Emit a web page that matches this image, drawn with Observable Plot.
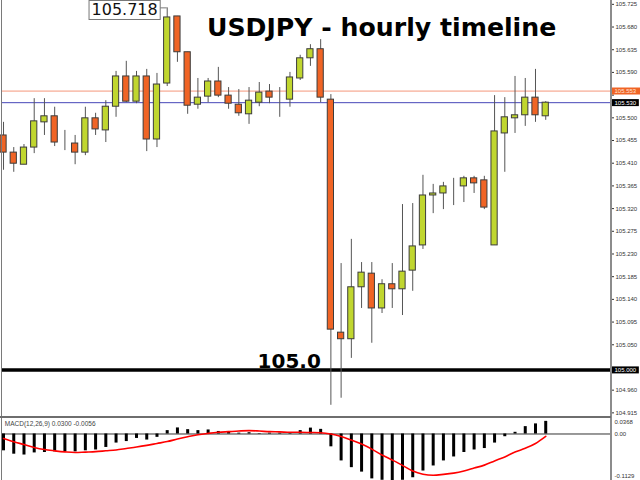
<!DOCTYPE html>
<html><head><meta charset="utf-8">
<script src="https://cdn.jsdelivr.net/npm/d3@7"></script>
<script src="https://cdn.jsdelivr.net/npm/@observablehq/plot@0.6"></script>
<style>
html,body{margin:0;padding:0;background:#fff;}
#wrap{position:relative;width:640px;height:480px;overflow:hidden;background:#fff;}
#main{position:absolute;left:0;top:0;}
#macd{position:absolute;left:0;top:417px;}
.chrome{position:absolute;}
</style></head><body>
<div id="wrap"><div id="main"></div><div id="macd"></div>
<div class="chrome" style="left:1px;top:0;width:1px;height:480px;background:#7a7a7a"></div>
<div class="chrome" style="left:610px;top:0;width:1.5px;height:480px;background:#8c8c8c"></div>
<div class="chrome" style="left:0;top:416px;width:611px;height:2px;background:#6e6e6e"></div>
</div>
<script>
// ---- data (hourly USDJPY candles) ----
const open  = [105.465,105.431,105.407,105.441,105.491,105.503,105.451,105.449,105.431,105.499,105.475,105.522,105.582,105.532,105.582,105.457,105.568,105.701,105.630,105.526,105.542,105.572,105.544,105.526,105.507,105.530,105.552,105.538,105.536,105.578,105.618,105.636,105.536,105.074,105.061,105.164,105.191,105.122,105.170,105.160,105.197,105.247,105.346,105.350,105.362,105.364,105.380,105.376,105.247,105.469,105.499,105.505,105.540,105.503];
const high  = [105.491,105.441,105.447,105.538,105.538,105.521,105.475,105.465,105.521,105.509,105.534,105.592,105.612,105.592,105.596,105.588,105.718,105.701,105.630,105.578,105.578,105.600,105.560,105.556,105.560,105.570,105.566,105.560,105.590,105.624,105.645,105.655,105.546,105.211,105.259,105.213,105.213,105.179,105.211,105.328,105.330,105.386,105.368,105.372,105.380,105.384,105.384,105.384,105.544,105.540,105.582,105.578,105.596,105.532];
const low   = [105.396,105.392,105.407,105.429,105.465,105.443,105.435,105.407,105.425,105.465,105.451,105.501,105.530,105.528,105.433,105.441,105.562,105.610,105.507,105.517,105.530,105.540,105.517,105.503,105.487,105.522,105.528,105.501,105.521,105.574,105.602,105.530,104.930,104.944,105.023,105.122,105.053,105.112,105.122,105.108,105.156,105.239,105.310,105.318,105.326,105.332,105.350,105.318,105.247,105.392,105.469,105.483,105.491,105.495];
const close = [105.431,105.409,105.441,105.493,105.503,105.451,105.451,105.431,105.499,105.477,105.522,105.582,105.532,105.582,105.457,105.566,105.699,105.630,105.524,105.540,105.572,105.544,105.528,105.509,105.534,105.550,105.540,105.538,105.580,105.618,105.636,105.540,105.080,105.061,105.164,105.193,105.122,105.170,105.160,105.195,105.245,105.346,105.350,105.364,105.362,105.380,105.370,105.322,105.473,105.501,105.505,105.540,105.505,105.530];
// MACD(12,26,9): histogram (main) and signal
const macdMain   = [-0.040,-0.048,-0.050,-0.045,-0.044,-0.0425,-0.0425,-0.0425,-0.040,-0.038,-0.032,-0.0216,-0.018,-0.0106,-0.0144,-0.008,0.008,0.0144,0.0103,0.008,0.0096,0.006,0.004,0.002,0.003,0.001,0.002,0.002,0.002,0.008,0.014,0.011,-0.0305,-0.064,-0.080,-0.0906,-0.1067,-0.110,-0.1129,-0.110,-0.104,-0.088,-0.076,-0.064,-0.0546,-0.044,-0.038,-0.0346,-0.0216,-0.0065,0.004,0.0175,0.024,0.0300];
const macdSignal = [-0.0106,-0.0185,-0.025,-0.032,-0.037,-0.040,-0.0425,-0.044,-0.043,-0.042,-0.040,-0.038,-0.0345,-0.031,-0.027,-0.0225,-0.018,-0.012,-0.0065,-0.0017,0.0015,0.004,0.0055,0.007,0.008,0.007,0.0055,0.005,0.004,0.004,0.0035,0.003,0.0,-0.006,-0.0145,-0.024,-0.036,-0.050,-0.062,-0.0745,-0.088,-0.0955,-0.098,-0.096,-0.093,-0.088,-0.081,-0.074,-0.064,-0.0545,-0.043,-0.034,-0.0225,-0.0056];
// levels and axis ticks
const askLevel = 105.553;
const bidLevel = 105.530;
const supportLevel = 105.000;
const priceTicks = [105.725,105.680,105.635,105.590,105.545,105.500,105.455,105.410,105.365,105.320,105.275,105.230,105.185,105.140,105.095,105.050,105.005,104.960,104.915];
const hiddenTickLabels = [105.545, 105.005]; // covered by the price boxes
const priceDomain = [104.9058, 105.7326];
const macdMax = 0.0368, macdMin = -0.1129;
const title = "USDJPY - hourly timeline";
const supportLabel = "105.0";

// ---- build ----
const GREEN = "#c0d62f", ORANGE = "#f06425", EDGE = "#3c3c3c";
const candles = open.map((o, i) => ({i, open: o, high: high[i], low: low[i], close: close[i], up: close[i] >= o}));
const xDomain = [-0.1, 59.43];
const fmt3 = d3.format(".3f");
const hiIdx = high.indexOf(d3.max(high));
const loIdx = low.indexOf(d3.min(low));

const main = Plot.plot({
  width: 640, height: 417, marginLeft: 2, marginRight: 29, marginTop: 0, marginBottom: 0,
  style: {fontFamily: "'Liberation Sans', Arial, sans-serif", background: "transparent", overflow: "visible"},
  x: {domain: xDomain, axis: null},
  y: {domain: priceDomain},
  marks: [
    Plot.axisY({ticks: priceTicks, anchor: "right", tickSize: 2, tickPadding: 2,
      tickFormat: d => hiddenTickLabels.some(h => Math.abs(h - d) < 1e-6) ? "" : fmt3(d),
      fontSize: 6, color: "#333", label: null}),
    Plot.ruleY([askLevel], {stroke: "#f4977a", strokeWidth: 1}),
    Plot.ruleY([bidLevel], {stroke: "#4747b8", strokeWidth: 1}),
    Plot.ruleY([supportLevel], {stroke: "#000", strokeWidth: 3.5}),
    Plot.ruleX(candles, {x: "i", y1: "low", y2: "high", stroke: "#555", strokeWidth: 1}),
    Plot.rect(candles.filter(d => d.up), {x1: d => d.i - 0.5, x2: d => d.i + 0.5, insetLeft: 2, insetRight: 2, y1: "open", y2: "close", fill: GREEN, stroke: EDGE, strokeWidth: 1}),
    Plot.rect(candles.filter(d => !d.up), {x1: d => d.i - 0.5, x2: d => d.i + 0.5, insetLeft: 2, insetRight: 2, y1: "open", y2: "close", fill: ORANGE, stroke: EDGE, strokeWidth: 1}),
    // high annotation
    Plot.ruleY([hiIdx], {y: i => high[i], x1: i => i - 0.7, x2: i => i, stroke: "#777", strokeWidth: 1}),
    Plot.text([hiIdx], {x: i => i, y: i => high[i], text: i => fmt3(high[i]), textAnchor: "end", dx: -9.5, dy: 2.5, fontSize: 16, fontFamily: "'DejaVu Sans', sans-serif", fill: "#111", ariaDescription: "box-white"}),
    // 105.0 label
    Plot.text([supportLevel], {x: () => loIdx, y: d => d, text: () => supportLabel, textAnchor: "end", lineAnchor: "bottom", dx: -10, dy: -2, fontSize: 20, fontWeight: "bold", fontFamily: "'DejaVu Sans', sans-serif", fill: "#000"}),
    // title
    Plot.text([title], {frameAnchor: "top-left", text: d => d, textAnchor: "start", lineAnchor: "top", dx: 204.5, dy: 18, fontSize: 25.2, fontWeight: "bold", fontFamily: "'DejaVu Sans', sans-serif", fill: "#000"}),
    // price boxes on right axis
    Plot.text([askLevel], {y: d => d, frameAnchor: "right", dx: 3, textAnchor: "start", text: d => fmt3(d), fontSize: 6, fill: "#ffe6da", ariaDescription: "box-orange"}),
    Plot.text([bidLevel, supportLevel], {y: d => d, frameAnchor: "right", dx: 3, textAnchor: "start", text: d => fmt3(d), fontSize: 6, fill: "#fff", ariaDescription: "box-black"})
  ]
});
document.getElementById("main").append(main);

const macdRows = macdMain.map((v, i) => ({i, hist: v, signal: macdSignal[i]}));
const macdLabel = `MACD(12,26,9) ${macdMain[macdMain.length - 1].toFixed(4)} ${macdSignal[macdSignal.length - 1].toFixed(4)}`;
const macd = Plot.plot({
  width: 640, height: 64, marginLeft: 2, marginRight: 29, marginTop: 1, marginBottom: 0,
  style: {fontFamily: "'Liberation Sans', Arial, sans-serif", background: "transparent", overflow: "visible"},
  x: {domain: xDomain, axis: null},
  y: {domain: [macdMin, macdMax], axis: null},
  marks: [
    Plot.ruleY([0], {stroke: "#333", strokeWidth: 1}),
    Plot.ruleX(macdRows, {x: "i", y1: 0, y2: "hist", stroke: "#000", strokeWidth: 3}),
    Plot.line(macdRows, {x: "i", y: "signal", stroke: "#ff0000", strokeWidth: 1.6, curve: "monotone-x"}),
    Plot.text([macdMax], {y: d => d, frameAnchor: "right", dx: 3, textAnchor: "start", lineAnchor: "top", dy: 1.3, text: d => d.toFixed(4), fontSize: 6, fill: "#333"}),
    Plot.text([0], {y: d => d, frameAnchor: "right", dx: 3, textAnchor: "start", text: d => d.toFixed(2), fontSize: 6, fill: "#333"}),
    Plot.text([macdMin], {y: d => d, frameAnchor: "right", dx: 3, textAnchor: "start", lineAnchor: "bottom", dy: -3.5, text: d => d.toFixed(4), fontSize: 6, fill: "#333"}),
    Plot.text([macdLabel], {frameAnchor: "top-left", text: d => d, textAnchor: "start", lineAnchor: "top", dx: 2.3, dy: 2.7, fontSize: 6.5, fill: "#444"})
  ]
});
document.getElementById("macd").append(macd);

// backgrounds behind boxed labels (sized from measured text)
function addBoxes(svg, desc, fill, stroke, padL, padR, padY, toEdge) {
  svg.querySelectorAll(`g[aria-description="${desc}"] text`).forEach(t => {
    const b = t.getBBox();
    const r = document.createElementNS("http://www.w3.org/2000/svg", "rect");
    r.setAttribute("x", b.x - padL);
    r.setAttribute("y", b.y - padY);
    r.setAttribute("width", (toEdge ? b.width + padR + 10 : b.width + padL + padR));
    r.setAttribute("height", b.height + 2 * padY);
    r.setAttribute("fill", fill);
    if (stroke) { r.setAttribute("stroke", stroke); r.setAttribute("stroke-width", 1); }
    const tr = t.getAttribute("transform");
    if (tr) r.setAttribute("transform", tr);
    t.parentNode.insertBefore(r, t);
  });
}
addBoxes(main, "box-orange", ORANGE, null, 2.5, 2, 0.5, true);
addBoxes(main, "box-black", "#000", null, 2.5, 2, 0.5, false);
addBoxes(main, "box-white", "#fff", "#777", 2.5, 2.5, 0, false);
</script>
</body></html>
